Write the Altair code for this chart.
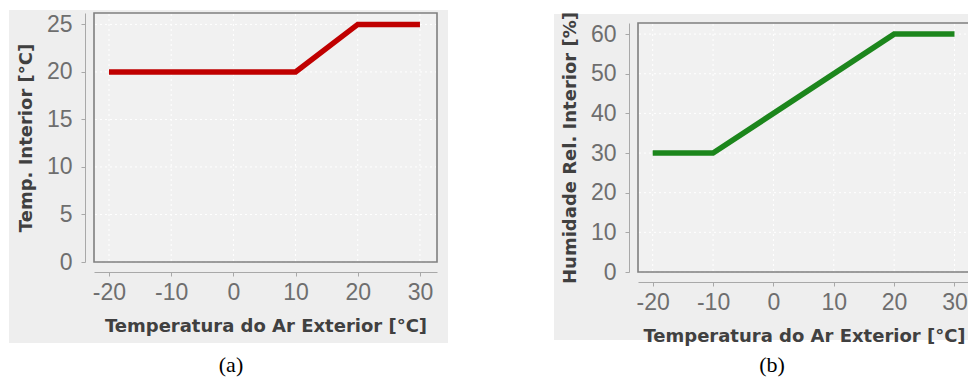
import altair as alt
import pandas as pd

# ---- data ----
ext_temp_a = [-20, 10, 20, 30]
int_temp = [20, 20, 25, 25]

ext_temp_b = [-20, -10, 20, 30]
int_rh = [30, 30, 60, 60]

x_ticks = [-20, -10, 0, 10, 20, 30]
y_ticks_a = [0, 5, 10, 15, 20, 25]
y_ticks_b = [0, 10, 20, 30, 40, 50, 60]

x_title = "Temperatura do Ar Exterior [°C]"
y_title_a = "Temp. Interior [°C]"
y_title_b = "Humidade Rel. Interior [%]"
captions = ["(a)", "(b)"]

OUTER = "#eeeeee"
INNER = "#f1f1f1"
FRAME = "#7f7f7f"


def panel(xs, ys, color, ytitle, xdom, ydom, yticks, w, h, bg, caption, cap_xy):
    x_scale = alt.Scale(domain=xdom, nice=False, zero=False)
    y_scale = alt.Scale(domain=ydom, nice=False, zero=False)
    x_axis = alt.Axis(values=x_ticks, title=x_title, offset=10, grid=False, labelFlush=False,
                      labelOverlap=False, tickSize=4, labelPadding=5, titlePadding=13, zindex=1,
                      labelExpr="'' + datum.value")
    y_axis = alt.Axis(values=yticks, title=ytitle, offset=9, grid=False, tickSize=4,
                      labelPadding=9, titlePadding=11, labelOverlap=False, zindex=1,
                      labelExpr="'' + datum.value")
    one = pd.DataFrame({"k": [0]})

    layers = []
    layers.append(alt.Chart(one).mark_rect(color=OUTER).encode(
        x=alt.value(bg[0]), x2=alt.value(bg[1]), y=alt.value(bg[2]), y2=alt.value(bg[3])))
    layers.append(alt.Chart(one).mark_rect(fill=INNER).encode(
        x=alt.value(0), x2=alt.value(w), y=alt.value(0), y2=alt.value(h)))

    xg = alt.Chart(pd.DataFrame({"v": x_ticks})).mark_rule(
        color="white", strokeDash=[2, 3], strokeWidth=1).encode(
        x=alt.X("v:Q", scale=x_scale, axis=x_axis), y=alt.value(1), y2=alt.value(h - 1))
    yg = alt.Chart(pd.DataFrame({"v": yticks})).mark_rule(
        color="white", strokeDash=[2, 3], strokeWidth=1).encode(
        y=alt.Y("v:Q", scale=y_scale, axis=y_axis), x=alt.value(1), x2=alt.value(w - 1))
    layers += [xg, yg]

    layers.append(alt.Chart(one).mark_rect(fillOpacity=0, stroke=FRAME, strokeWidth=1.6).encode(
        x=alt.value(0), x2=alt.value(w), y=alt.value(0), y2=alt.value(h)))

    df = pd.DataFrame({"v": xs, "w": ys})
    line = alt.Chart(df).mark_line(color=color, strokeWidth=5.5, strokeCap="butt").encode(
        x=alt.X("v:Q", scale=x_scale, axis=x_axis),
        y=alt.Y("w:Q", scale=y_scale, axis=y_axis),
    )
    layers.append(line)

    cap = alt.Chart(one).mark_text(text=caption, font="Liberation Serif", fontSize=22,
                                   color="black", baseline="alphabetic", align="center").encode(
        x=alt.value(cap_xy[0]), y=alt.value(cap_xy[1]))
    layers.append(cap)

    return alt.layer(*layers).properties(width=w, height=h)


# panel (a): plot area at page x 94..437, y 13..262
chart_a = panel(ext_temp_a, int_temp, "#c00000", y_title_a,
                [-22.41, 32.74], [0, 26.2], y_ticks_a, 343, 249,
                (-85, 354, -3, 330), captions[0], (137, 359))

# panel (b): plot area from page x 638, y 23..272 (its right edge runs off the page)
chart_b = panel(ext_temp_b, int_rh, "#1c861c", y_title_b,
                [-22.435, 32.57], [0, 62.8], y_ticks_b, 332, 249,
                (-84, 332, -9, 317), captions[1], (134, 349))

# tiny invisible spacer that lowers panel (b) relative to panel (a)
spacer = alt.Chart(pd.DataFrame({"k": [0]})).mark_point(opacity=0).properties(width=1, height=1)
col_b = alt.vconcat(spacer, chart_b, spacing=9, bounds="flush")

chart = alt.hconcat(chart_a, col_b, spacing=106).properties(
    autosize=alt.AutoSizeParams(type="none"),
    padding={"left": 86, "top": 5, "right": 874, "bottom": 364},
).configure_view(
    strokeOpacity=0
).configure_axis(
    domainColor="#a8a8a8",
    tickColor="#a8a8a8",
    labelColor="#6e6e6e",
    labelFont="Liberation Sans",
    labelFontSize=23,
    titleFont="DejaVu Sans",
    titleFontSize=18,
    titleFontWeight="bold",
    titleColor="#404040",
)

chart.save("out.html", embed_options={"renderer": "svg", "actions": False})
